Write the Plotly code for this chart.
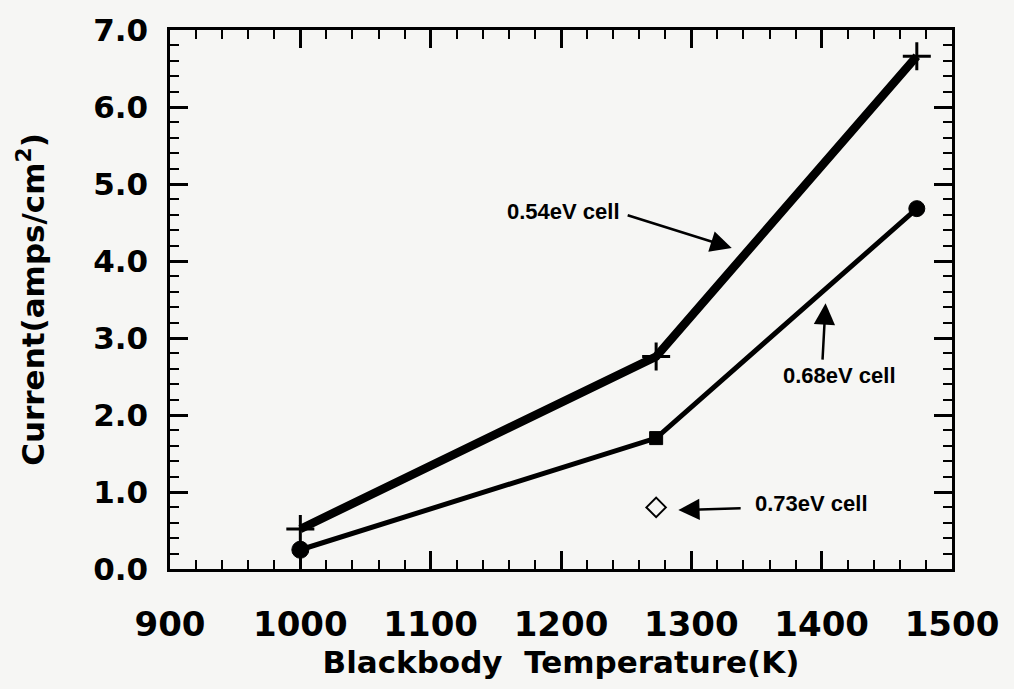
import plotly.graph_objects as go

# ---- data ----
temp = [1000, 1273, 1473]
cell_054 = [0.52, 2.76, 6.66]
cell_068 = [0.25, 1.70, 4.68]
temp_073 = [1273]
cell_073 = [0.80]

x_ticks = [900, 1000, 1100, 1200, 1300, 1400, 1500]
y_ticks = [0, 1, 2, 3, 4, 5, 6, 7]
y_tick_labels = ["0.0", "1.0", "2.0", "3.0", "4.0", "5.0", "6.0", "7.0"]

# annotation labels: (text, x, y) and arrows (tail x, tail y, tip x, tip y)
labels = ["0.54eV cell", "0.68eV cell", "0.73eV cell"]
label_x = [1157, 1369, 1347]
label_y = [4.64, 2.51, 0.85]
arrow_tail_x = [1250, 1400.6, 1339]
arrow_tail_y = [4.60, 2.70, 0.79]
arrow_tip_x = [1331, 1403, 1290]
arrow_tip_y = [4.17, 3.45, 0.765]

BG = "#f6f6f4"
fig = go.Figure()

fig.add_trace(go.Scatter(
    x=temp, y=cell_054, mode="lines+markers",
    line=dict(color="black", width=8.5),
    marker=dict(symbol="cross-thin", size=20, color="black", line=dict(color="black", width=3)),
    showlegend=False))

fig.add_trace(go.Scatter(
    x=temp, y=cell_068, mode="lines+markers",
    line=dict(color="black", width=5),
    marker=dict(symbol=["circle", "square", "circle"], size=[17, 13, 16], color="black",
                opacity=1, line=dict(color="black", width=1)),
    showlegend=False))

fig.add_trace(go.Scatter(
    x=temp_073, y=cell_073, mode="markers",
    marker=dict(symbol="diamond-open", size=15, color="black", line=dict(color="black", width=2)),
    showlegend=False))

# invisible trace on mirror axes so top/right minor ticks are drawn
fig.add_trace(go.Scatter(x=temp, y=cell_068, xaxis="x2", yaxis="y2", mode="markers",
                         marker=dict(opacity=0), hoverinfo="skip", showlegend=False))

for t, lx, ly in zip(labels, label_x, label_y):
    fig.add_annotation(x=lx, y=ly, text=t, showarrow=False, xanchor="left", yanchor="middle",
                       font=dict(family="Liberation Sans", size=22, color="black", weight="bold"))

for tx, ty, hx, hy in zip(arrow_tail_x, arrow_tail_y, arrow_tip_x, arrow_tip_y):
    fig.add_annotation(x=hx, y=hy, ax=tx, ay=ty, axref="x", ayref="y", text="",
                       showarrow=True, arrowhead=2, arrowsize=1.7, arrowwidth=2.5,
                       arrowcolor="black", standoff=0, startstandoff=0)

axis_common = dict(
    showline=True, linecolor="black", linewidth=2.5,
    ticks="inside", ticklen=18, tickwidth=2.5, tickcolor="black",
    showgrid=False, zeroline=False,
)

fig.update_layout(
    xaxis=dict(
        range=[900, 1500], tickvals=x_ticks,
        tickfont=dict(family="DejaVu Sans", size=34, color="black", weight="bold"),
        ticklabelstandoff=23,
        minor=dict(dtick=20, ticks="inside", ticklen=9, tickwidth=2, tickcolor="black", showgrid=False),
        title=dict(text="Blackbody\u00a0 Temperature(K)", standoff=0,
                   font=dict(family="DejaVu Sans", size=31, color="black", weight="bold")),
        **axis_common),
    yaxis=dict(
        range=[0, 7], tickvals=y_ticks, ticktext=y_tick_labels,
        tickfont=dict(family="DejaVu Sans", size=31, color="black", weight="bold"),
        ticklabelstandoff=13,
        minor=dict(dtick=0.2, ticks="inside", ticklen=9, tickwidth=2, tickcolor="black", showgrid=False),
        title=dict(text="Current(amps/cm<sup>2</sup>)", standoff=40,
                   font=dict(family="DejaVu Sans", size=31, color="black", weight="bold")),
        **axis_common),
    xaxis2=dict(
        overlaying="x", side="top", matches="x", tickvals=x_ticks, showticklabels=False,
        minor=dict(dtick=20, ticks="inside", ticklen=9, tickwidth=2, tickcolor="black", showgrid=False),
        **axis_common),
    yaxis2=dict(
        overlaying="y", side="right", matches="y", tickvals=y_ticks, showticklabels=False,
        minor=dict(dtick=0.2, ticks="inside", ticklen=9, tickwidth=2, tickcolor="black", showgrid=False),
        **axis_common),
    width=1014, height=689,
    margin=dict(l=170, r=62, t=20, b=120),
    paper_bgcolor=BG, plot_bgcolor=BG,
)

fig.write_html("out.html")
